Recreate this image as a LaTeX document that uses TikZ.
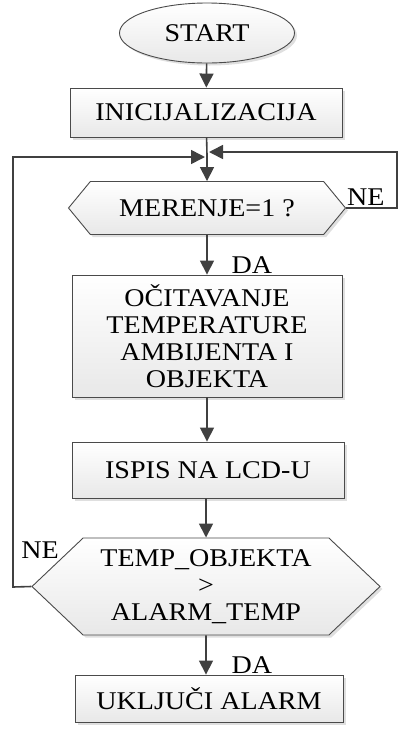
\documentclass[tikz,border=0pt]{standalone}
\usepackage{fontspec}
\setmainfont{Liberation Serif}[FakeStretch=1.1]
\usetikzlibrary{shapes.geometric,shapes.symbols,shadows,arrows.meta}
\definecolor{linija}{HTML}{404040}
\definecolor{okvir}{HTML}{4A4A4A}
\tikzset{
  blok/.style={draw=okvir, line width=0.9pt, top color=white, bottom color=gray!18,
    drop shadow={shadow xshift=2.5pt, shadow yshift=-2.5pt, opacity=0.25},
    font=\fontsize{25.5}{27}\selectfont, align=center, inner sep=0pt},
  odluka/.style={blok, signal, signal to=west and east},
  strelica/.style={-{Triangle[length=14pt,width=14pt]}, draw=linija, line width=1.6pt},
  veza/.style={draw=linija, line width=1.6pt},
  oznaka/.style={font=\fontsize{25.5}{27}\selectfont, inner sep=0pt}
}
\begin{document}
\begin{tikzpicture}[x=1pt, y=-1pt]
\useasboundingbox (0,0) rectangle (400,732);

\node[blok, ellipse, minimum width=175pt, minimum height=60pt] (start) at (207,33) {START};
\node[blok, rectangle, minimum width=272pt, minimum height=49pt] (init) at (206,112.5) {INICIJALIZACIJA};
\node[odluka, signal pointer angle=101, minimum width=277pt, minimum height=53pt] (merenje) at (207,208) {MERENJE=1 ?};
\node[blok, rectangle, minimum width=270pt, minimum height=122pt] (ocitavanje) at (207,336) {OČITAVANJE\\TEMPERATURE\\AMBIJENTA I\\OBJEKTA};
\node[blok, rectangle, minimum width=272pt, minimum height=56pt] (ispis) at (208,470) {ISPIS NA LCD-U};
\node[odluka, signal pointer angle=87, minimum width=348pt, minimum height=97pt] (uslov) at (206,586.5) {TEMP\_OBJEKTA\\>\\ALARM\_TEMP};
\node[blok, rectangle, minimum width=268pt, minimum height=47pt] (alarm) at (209,698.5) {UKLJUČI ALARM};

% spojne tacke
\coordinate (spoj) at (207,155);
\coordinate (d1) at (397,208);
\coordinate (g1) at (397,152);
\coordinate (k1) at (209,152);
\coordinate (d2) at (13,587);
\coordinate (g2) at (13,157);
\coordinate (k2) at (205,157);

\draw[strelica] (start) -- (init);
\draw[veza] (init) -- (spoj);
\draw[strelica] (spoj) -- (merenje);
\draw[strelica] (merenje) -- (merenje.south |- ocitavanje.north);
\draw[strelica] (ocitavanje) -- (ocitavanje |- ispis.north);
\draw[strelica] (ispis.south -| uslov) -- (uslov);
\draw[strelica] (uslov) -- (alarm.north -| uslov.south);

\draw[strelica] (merenje.east) -- (d1) -- (g1) -- (k1);
\draw[strelica] (uslov.west) -- (d2) -- (g2) -- (k2);

\node[oznaka, anchor=south west] (ne1) at (347,206) {NE};
\node[oznaka] (da1) at (252,265) {DA};
\node[oznaka] (ne2) at (40,550) {NE};
\node[oznaka] (da2) at (252,665) {DA};
\end{tikzpicture}
\end{document}
